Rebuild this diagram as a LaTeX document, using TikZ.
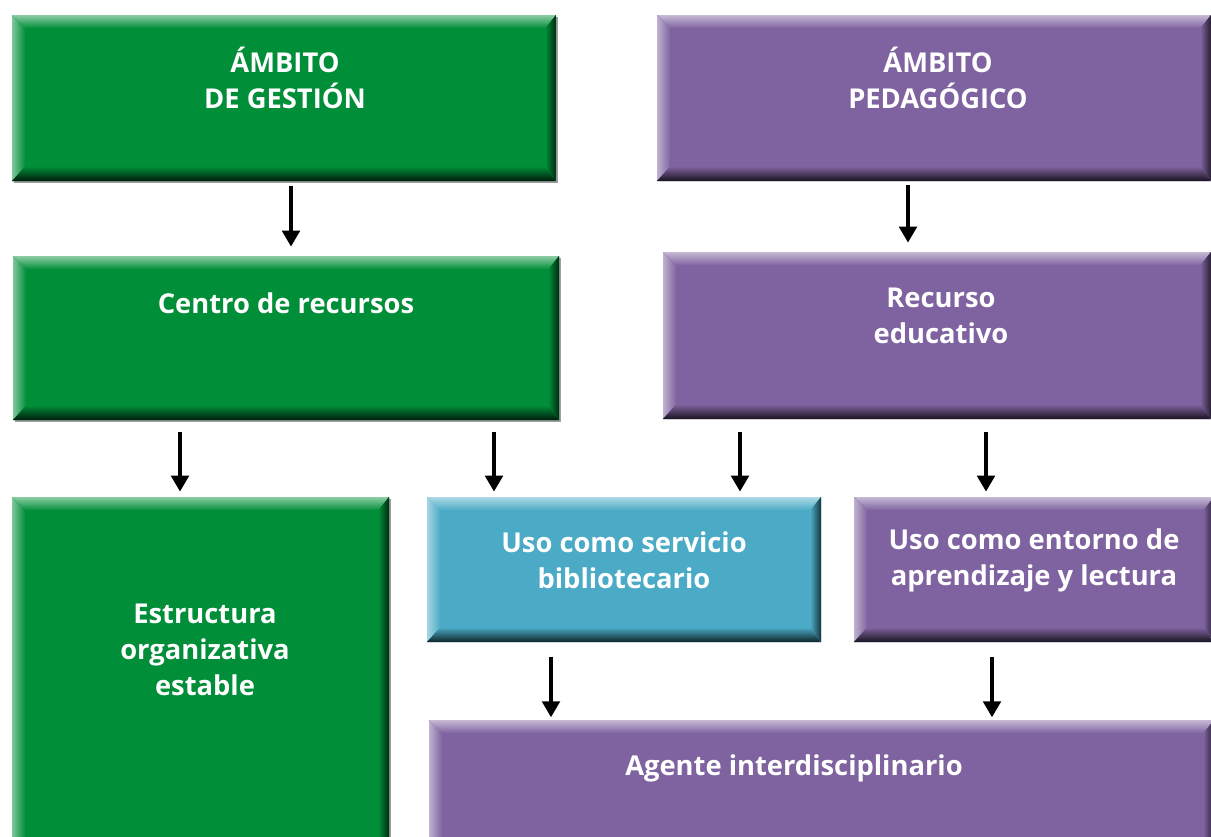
\documentclass[tikz,border=0pt]{standalone}
\usepackage{fontspec}
\setmainfont{Open Sans}
\usetikzlibrary{arrows.meta, fit, calc}

\definecolor{verde}{RGB}{0,142,56}
\definecolor{morado}{RGB}{127,99,160}
\definecolor{turquesa}{RGB}{75,171,198}

\tikzset{
  caja/.style={inner sep=0pt, outer sep=0pt, fill=#1, path picture={
      \coordinate (nw) at (path picture bounding box.north west);
      \coordinate (ne) at (path picture bounding box.north east);
      \coordinate (sw) at (path picture bounding box.south west);
      \coordinate (se) at (path picture bounding box.south east);
      \fill[left color=#1!50!white, right color=#1] (nw) -- ([shift={(10pt,-10pt)}]nw) -- ([shift={(10pt,11pt)}]sw) -- (sw) -- cycle;
      \fill[top color=#1!45!white, bottom color=#1] (nw) -- (ne) -- ([shift={(-8pt,-10pt)}]ne) -- ([shift={(10pt,-10pt)}]nw) -- cycle;
      \fill[top color=#1, bottom color=#1!20!black] (sw) -- ([shift={(10pt,11pt)}]sw) -- ([shift={(-8pt,11pt)}]se) -- (se) -- cycle;
      \fill[left color=#1, right color=#1!30!black] (ne) -- ([shift={(-8pt,-10pt)}]ne) -- ([shift={(-8pt,11pt)}]se) -- (se) -- cycle;
  }},
  sombra/.style={preaction={fill=gray!75, transform canvas={shift={(1.5pt,-1.5pt)}}}},
  txt/.style={text=white, font=\bfseries\fontsize{20.5}{27}\selectfont, align=center},
  arr/.style={line width=3pt, -{Triangle[length=12pt, width=13pt]}},
}

\begin{document}
\begin{tikzpicture}[x=0.75pt, y=-0.75pt]
  \useasboundingbox (0,0) rectangle (1211,836);
  \clip (0,0) rectangle (1211,836);

  % cajas
  \node[caja=verde, sombra, fit={(12,15) (556,181)}] (gestion) {};
  \node[caja=morado, fit={(657,15) (1211,181)}] (pedag) {};
  \node[caja=verde, sombra, fit={(13,256) (559,420)}] (centro) {};
  \node[caja=morado, fit={(663,252) (1211,419)}] (recurso) {};
  \node[caja=verde, sombra, fit={(12,497) (389,860)}] (estruct) {};
  \node[caja=turquesa, fit={(427,497) (821,642)}] (servicio) {};
  \node[caja=morado, fit={(854,497) (1214,642)}] (entorno) {};
  \node[caja=morado, fit={(429,720) (1214,860)}] (agente) {};

  % textos
  \node[txt] (gestion-t) at (285,78) {ÁMBITO\\DE GESTIÓN};
  \node[txt] (pedag-t) at (938,78) {ÁMBITO\\PEDAGÓGICO};
  \node[txt] (centro-t) at (286,303) {Centro de recursos};
  \node[txt] (recurso-t) at (941,316) {Recurso\\educativo};
  \node[txt] (estruct-t) at (205,650) {Estructura\\organizativa\\estable};
  \node[txt] (servicio-t) at (624,560) {Uso como servicio\\bibliotecario};
  \node[txt] (entorno-t) at (1034,560) {Uso como entorno de\\aprendizaje y lectura};
  \node[txt] (agente-t) at (794,768) {Agente interdisciplinario};

  % flechas
  \draw[arr, shorten <=4pt, shorten >=7pt] (gestion.south -| 291,0) -- (centro.north -| 291,0);
  \draw[arr, shorten <=3pt, shorten >=7pt] (pedag.south -| 908,0) -- (recurso.north -| 908,0);
  \draw[arr, shorten <=9pt, shorten >=4pt] (centro.south -| 180,0) -- (estruct.north -| 180,0);
  \draw[arr, shorten <=9pt, shorten >=4pt] (centro.south -| 494,0) -- (servicio.north -| 494,0);
  \draw[arr, shorten <=10pt, shorten >=4pt] (recurso.south -| 740,0) -- (servicio.north -| 740,0);
  \draw[arr, shorten <=10pt, shorten >=4pt] (recurso.south -| 986,0) -- (entorno.north -| 986,0);
  \draw[arr, shorten <=11pt, shorten >=2pt] (servicio.south -| 551,0) -- (agente.north -| 551,0);
  \draw[arr, shorten <=11pt, shorten >=2pt] (entorno.south -| 992,0) -- (agente.north -| 992,0);
\end{tikzpicture}
\end{document}
